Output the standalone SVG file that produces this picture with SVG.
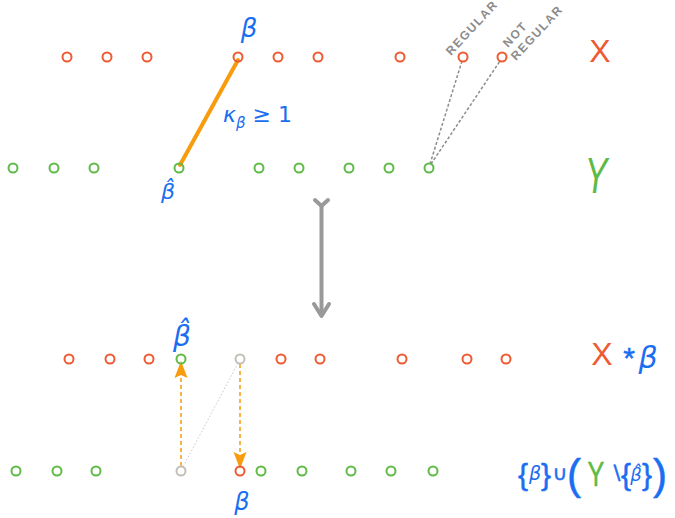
<svg xmlns="http://www.w3.org/2000/svg" width="675" height="518" viewBox="0 0 675 518">
<style>
.r{fill:none;stroke:#ef5a32;stroke-width:2}
.g{fill:none;stroke:#5fba46;stroke-width:2}
.n{fill:none;stroke:#c3bfb8;stroke-width:2}
.b{font-family:"DejaVu Sans","Liberation Sans",sans-serif;fill:#1a6ef2;font-style:italic}
.bs{font-family:"Liberation Sans","DejaVu Sans",sans-serif;fill:#1a6ef2;stroke:#1a6ef2;stroke-width:0.5}
.lab{font-family:"Liberation Sans","DejaVu Sans",sans-serif;font-weight:bold;fill:#8c8c8c;font-size:12px;letter-spacing:1.5px}
.ah{fill:#f89c0e}
.od{stroke:#f89c0e;stroke-width:1.5;stroke-dasharray:4,3}
</style>
<rect width="675" height="518" fill="#fff"/>
<g id="connectors">
<line x1="238" y1="60" x2="180" y2="165" stroke="#f89c0e" stroke-width="4" stroke-linecap="round"/>
<line x1="430" y1="164" x2="462" y2="61" stroke="#8c8c8c" stroke-width="1.5" stroke-dasharray="3,2"/>
<line x1="431" y1="164" x2="500" y2="61" stroke="#8c8c8c" stroke-width="1.5" stroke-dasharray="3,2"/>
<g id="big-arrow" stroke="#999" stroke-width="4" fill="none" stroke-linecap="round" stroke-linejoin="round">
<line x1="321.5" y1="206" x2="321.5" y2="314"/>
<path d="M315,200 L321.5,206 L328,200"/>
<path d="M314,304 L321.5,316 L329,304"/>
</g>
<line x1="238" y1="363" x2="183" y2="467" stroke="#c8c8c8" stroke-width="1" stroke-dasharray="1.5,2"/>
<line class="od" x1="181" y1="466" x2="181" y2="374"/>
<path class="ah" d="M181,361 L187.5,378 L181,375 L174.5,378 Z"/>
<line class="od" x1="240" y1="364" x2="240" y2="456"/>
<path class="ah" d="M240,469 L246.5,452 L240,455 L233.5,452 Z"/>
</g>
<g id="X-top">
<circle class="r" cx="67" cy="57" r="4.5"/><circle class="r" cx="107" cy="57" r="4.5"/><circle class="r" cx="147" cy="57" r="4.5"/>
<circle class="r" cx="238" cy="57" r="4.5"/><circle class="r" cx="278" cy="57" r="4.5"/><circle class="r" cx="318" cy="57" r="4.5"/>
<circle class="r" cx="400" cy="57" r="4.5"/><circle class="r" cx="463" cy="57" r="4.5"/><circle class="r" cx="502" cy="57" r="4.5"/>
</g>
<g id="Y-top">
<circle class="g" cx="13" cy="168" r="4.5"/><circle class="g" cx="54" cy="168" r="4.5"/><circle class="g" cx="94" cy="168" r="4.5"/>
<circle class="g" cx="179" cy="168" r="4.5"/><circle class="g" cx="259" cy="168" r="4.5"/><circle class="g" cx="299" cy="168" r="4.5"/>
<circle class="g" cx="349" cy="168" r="4.5"/><circle class="g" cx="389" cy="168" r="4.5"/><circle class="g" cx="429" cy="168" r="4.5"/>
</g>
<g id="X-bottom">
<circle class="r" cx="69" cy="359" r="4.5"/><circle class="r" cx="110" cy="359" r="4.5"/><circle class="r" cx="149" cy="359" r="4.5"/>
<circle class="g" cx="181" cy="359" r="4.5"/><circle class="n" cx="240" cy="359" r="4.5"/>
<circle class="r" cx="281" cy="359" r="4.5"/><circle class="r" cx="320" cy="359" r="4.5"/>
<circle class="r" cx="402" cy="359" r="4.5"/><circle class="r" cx="467" cy="359" r="4.5"/><circle class="r" cx="506" cy="359" r="4.5"/>
</g>
<g id="Y-bottom">
<circle class="g" cx="16" cy="471" r="4.5"/><circle class="g" cx="57" cy="471" r="4.5"/><circle class="g" cx="96" cy="471" r="4.5"/>
<circle class="n" cx="181" cy="471" r="4.5"/><circle class="r" cx="240" cy="471" r="4.5"/>
<circle class="g" cx="261" cy="471" r="4.5"/><circle class="g" cx="302" cy="471" r="4.5"/>
<circle class="g" cx="351" cy="471" r="4.5"/><circle class="g" cx="391" cy="471" r="4.5"/><circle class="g" cx="433" cy="471" r="4.5"/>
</g>
<g id="labels-top">
<text class="b" x="249" y="37" font-size="26" text-anchor="middle">β</text>
<text class="b" x="168" y="199" font-size="22" text-anchor="middle">β̂</text>
<text class="b" x="223" y="122" font-size="22">κ<tspan font-size="15" dy="6">β</tspan><tspan dy="-6" font-style="normal"> ≥ 1</tspan></text>
<text class="lab" transform="translate(451,56) rotate(-47)">REGULAR</text>
<text class="lab" transform="translate(508,48) rotate(-47)">NOT</text>
<text class="lab" transform="translate(516,61) rotate(-47)">REGULAR</text>
<text x="600" y="62" font-family="Liberation Sans,sans-serif" font-size="32" fill="#ef5a32" text-anchor="middle">X</text>
<text x="0" y="0" font-family="Liberation Sans,sans-serif" font-size="50" fill="#5fba46" font-style="italic" text-anchor="middle" transform="translate(596,193) scale(0.68,1)">Y</text>
</g>
<g id="labels-bottom">
<text class="b" x="182" y="346" font-size="28" text-anchor="middle">β̂</text>
<text class="b" x="242" y="510" font-size="24" text-anchor="middle">β</text>
<text x="602" y="365" font-family="Liberation Sans,sans-serif" font-size="32" fill="#ef5a32" text-anchor="middle">X</text>
<text class="bs" x="629" y="368" font-size="30" text-anchor="middle">*</text>
<text class="b" x="648" y="368" font-size="30" text-anchor="middle">β</text>
<g id="formula">
<text class="bs" x="523" y="485" font-size="30" text-anchor="middle">{</text>
<text class="b" x="535" y="480" font-size="19" text-anchor="middle">β</text>
<text class="bs" x="546" y="485" font-size="30" text-anchor="middle">}</text>
<text class="bs" x="560" y="480" font-size="20" text-anchor="middle">∪</text>
<text class="bs" x="574" y="489" font-size="42" text-anchor="middle">(</text>
<text x="0" y="0" font-family="Liberation Sans,sans-serif" font-size="36" fill="#5fba46" stroke="#5fba46" stroke-width="0.5" text-anchor="middle" transform="translate(596,486) scale(0.7,1)">Y</text>
<text class="bs" x="616" y="480" font-size="20" text-anchor="middle">∖</text>
<text class="bs" x="626" y="485" font-size="30" text-anchor="middle">{</text>
<text class="b" x="636" y="481" font-size="18" text-anchor="middle">β̂</text>
<text class="bs" x="647" y="485" font-size="30" text-anchor="middle">}</text>
<text class="bs" x="660" y="489" font-size="42" text-anchor="middle">)</text>
</g>
</g>
</svg>
